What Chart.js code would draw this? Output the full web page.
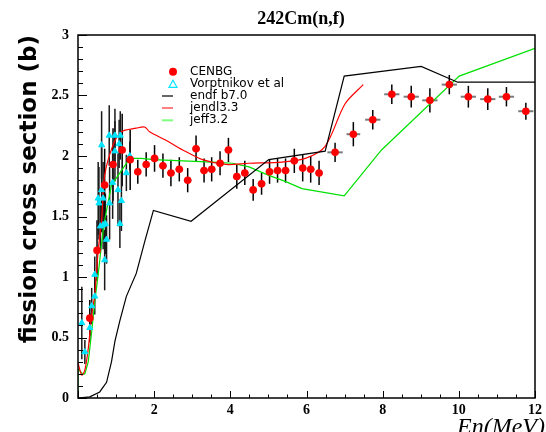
<!DOCTYPE html>
<html>
<head>
<meta charset="utf-8">
<script src="https://cdn.jsdelivr.net/npm/chart.js@4.4.1/dist/chart.umd.min.js"></script>
<style>
  html, body { margin: 0; padding: 0; background: #fff; }
  canvas { display: block; }
</style>
</head>
<body>
<canvas id="c" width="546" height="432"></canvas>
<script>
// CENBG points: energy (MeV), cross section (b), errors
const cenbgE = [0.31, 0.50, 0.70, 0.92, 1.16, 1.37, 1.57, 1.79, 2.01, 2.23, 2.44, 2.66, 2.88, 3.10, 3.31,
  3.51, 3.73, 3.95, 4.17, 4.38, 4.60, 4.82, 5.03, 5.24, 5.45, 5.68, 5.90, 6.11, 6.33, 6.75, 7.23,
  7.74, 8.24, 8.75, 9.24, 9.75, 10.25, 10.76, 11.25, 11.76];
const cenbgSigma = [0.66, 1.22, 1.76, 1.93, 2.05, 1.97, 1.87, 1.93, 1.98, 1.92, 1.86, 1.89, 1.80, 2.06, 1.88,
  1.89, 1.94, 2.05, 1.83, 1.86, 1.72, 1.77, 1.87, 1.88, 1.88, 1.96, 1.90, 1.89, 1.86, 2.03, 2.18,
  2.30, 2.51, 2.49, 2.46, 2.59, 2.49, 2.47, 2.49, 2.37];
const cenbgErrY = [0.15, 0.25, 0.30, 0.30, 0.30, 0.25, 0.10, 0.10, 0.11, 0.10, 0.11, 0.10, 0.10, 0.11, 0.10,
  0.10, 0.10, 0.10, 0.10, 0.10, 0.09, 0.09, 0.10, 0.10, 0.10, 0.10, 0.11, 0.11, 0.10, 0.08, 0.10,
  0.08, 0.08, 0.09, 0.10, 0.08, 0.09, 0.09, 0.08, 0.07];
const cenbgErrX = [0.05, 0.05, 0.05, 0.05, 0.05, 0.08, 0.08, 0.08, 0.1, 0.1, 0.1, 0.1, 0.1, 0.1, 0.1,
  0.1, 0.1, 0.1, 0.1, 0.1, 0.1, 0.1, 0.1, 0.1, 0.1, 0.1, 0.1, 0.1, 0.1, 0.2, 0.18,
  0.2, 0.2, 0.2, 0.2, 0.2, 0.2, 0.2, 0.2, 0.2];

// Vorptnikov et al
const vorpE = [0.62, 0.82, 0.97, 1.11, 1.08, 0.97, 1.36, 1.27, 0.91, 1.05, 0.62, 0.53, 0.66, 0.83,
  1.14, 0.55, 1.10, 0.72, 0.66, 0.59, 0.75, 0.70, 0.44, 0.44, 0.36, 0.31, 0.10, 0.18];
const vorpSigma = [2.09, 2.17, 2.17, 2.17, 2.10, 2.04, 2.00, 1.86, 1.78, 1.72, 1.72, 1.65, 1.65, 1.61,
  1.63, 1.61, 1.44, 1.44, 1.43, 1.42, 1.31, 1.14, 1.02, 0.84, 0.76, 0.58, 0.62, 0.38];
const vorpErr = [0.28, 0.25, 0.22, 0.20, 0.20, 0.25, 0.12, 0.15, 0.30, 0.30, 0.35, 0.30, 0.30, 0.30,
  0.25, 0.30, 0.20, 0.25, 0.20, 0.20, 0.20, 0.25, 0.15, 0.15, 0.15, 0.12, 0.30, 0.10];

// evaluations
const endfE = [0, 0.31, 0.57, 0.75, 0.88, 0.97, 1.10, 1.27, 1.53, 1.75, 1.98, 2.97, 5.01, 6.49, 6.99, 9.01, 9.97, 12];
const endfSigma = [0, 0.01, 0.05, 0.13, 0.30, 0.47, 0.64, 0.84, 1.03, 1.29, 1.55, 1.46, 1.97, 2.04, 2.66, 2.74, 2.61, 2.61];

const jendlE = [0, 0.10, 0.18, 0.27, 0.36, 0.44, 0.53, 0.62, 0.70, 0.92, 1.14, 1.53, 1.75, 1.88, 2.31,
  2.75, 3.27, 3.88, 4.49, 5.36, 5.97, 6.49, 7.01, 7.49];
const jendlSigma = [0.29, 0.19, 0.23, 0.41, 0.69, 0.85, 1.22, 1.47, 1.84, 2.09, 2.20, 2.23, 2.24, 2.20, 2.13,
  2.05, 1.97, 1.93, 1.94, 1.95, 1.98, 2.08, 2.43, 2.59];

const jeffE = [0, 0, 0.12, 0.18, 0.27, 0.36, 0.44, 0.53, 0.62, 0.70, 0.88, 1.10, 1.36, 1.66, 1.98,
  3.53, 4.05, 4.49, 5.01, 5.44, 5.88, 6.99, 7.97, 10.01, 12];
const jeffSigma = [0, 0.24, 0.20, 0.20, 0.30, 0.55, 0.80, 1.02, 1.28, 1.47, 1.76, 1.86, 1.98, 1.98, 1.97,
  1.95, 1.94, 1.91, 1.84, 1.79, 1.73, 1.67, 2.05, 2.66, 2.89];

const legendNames = ["CENBG", "Vorptnikov et al", "endf b7.0", "jendl3.3", "jeff3.2"];

const pts = (xs, ys) => xs.map((x, i) => ({ x, y: ys[i] }));

const serif = "'Liberation Serif', 'DejaVu Serif', serif";
const sans = "'DejaVu Sans', Verdana, sans-serif";

// error bars drawn under the markers
const errorBars = {
  id: "errorBars",
  beforeDatasetsDraw(chart) {
    const { ctx, scales: { x, y } } = chart;
    ctx.save();
    chart.data.datasets.forEach((ds) => {
      if (!ds.errY) return;
      ds.data.forEach((p, i) => {
        const px = x.getPixelForValue(p.x);
        const py = y.getPixelForValue(p.y);
        if (ds.errX) {
          ctx.strokeStyle = "#7a7a7a";
          ctx.lineWidth = 2;
          ctx.beginPath();
          ctx.moveTo(x.getPixelForValue(p.x - ds.errX[i]), py);
          ctx.lineTo(x.getPixelForValue(p.x + ds.errX[i]), py);
          ctx.stroke();
        }
        ctx.strokeStyle = ds.errColor || "#000";
        ctx.lineWidth = 1.5;
        ctx.beginPath();
        ctx.moveTo(px, y.getPixelForValue(p.y - ds.errY[i]));
        ctx.lineTo(px, y.getPixelForValue(p.y + ds.errY[i]));
        ctx.stroke();
      });
    });
    ctx.restore();
  },
};

// frame with inward ticks, title, x label and legend
const decor = {
  id: "decor",
  afterDraw(chart) {
    const { ctx, chartArea: a, scales: { x, y } } = chart;
    ctx.save();
    ctx.strokeStyle = "#000";
    ctx.lineWidth = 1.5;
    ctx.strokeRect(a.left, a.top, a.right - a.left, a.bottom - a.top);

    ctx.lineWidth = 1;
    ctx.beginPath();
    for (let k = 0; k <= 24; k++) {
      const px = Math.round(x.getPixelForValue(k * 0.5)) + 0.5;
      const len = k % 4 === 0 ? 7 : 3.5;
      ctx.moveTo(px, a.bottom);
      ctx.lineTo(px, a.bottom - len);
    }
    for (let k = 0; k <= 30; k++) {
      const py = Math.round(y.getPixelForValue(k * 0.1)) + 0.5;
      const len = k % 5 === 0 ? 9 : 5;
      ctx.moveTo(a.left, py);
      ctx.lineTo(a.left + len, py);
    }
    ctx.stroke();

    ctx.fillStyle = "#000";
    ctx.textAlign = "center";
    ctx.textBaseline = "middle";
    ctx.font = `bold 18px ${serif}`;
    ctx.fillText("242Cm(n,f)", 301, 19);

    ctx.textAlign = "left";
    ctx.textBaseline = "top";
    ctx.font = `italic 24px ${serif}`;
    ctx.fillText("En(MeV)", 457, 416);

    // legend
    const lx = 173, tx = 190;
    const rows = [71.7, 84.3, 96, 108, 120.3];
    ctx.font = `12px ${sans}`;
    ctx.textBaseline = "middle";
    ctx.fillStyle = "#000";
    legendNames.forEach((t, i) => ctx.fillText(t, tx, rows[i]));
    ctx.fillStyle = "#ff0000";
    ctx.beginPath();
    ctx.arc(lx, rows[0], 4, 0, Math.PI * 2);
    ctx.fill();
    ctx.strokeStyle = "#00e5ff";
    ctx.lineWidth = 1.2;
    ctx.beginPath();
    ctx.moveTo(lx, rows[1] - 4);
    ctx.lineTo(lx + 4, rows[1] + 3);
    ctx.lineTo(lx - 4, rows[1] + 3);
    ctx.closePath();
    ctx.stroke();
    [["#666", rows[2]], ["#ff8080", rows[3]], ["#80ff80", rows[4]]].forEach(([c, ry]) => {
      ctx.strokeStyle = c;
      ctx.lineWidth = 2;
      ctx.beginPath();
      ctx.moveTo(162, ry);
      ctx.lineTo(173, ry);
      ctx.stroke();
    });
    ctx.restore();
  },
};

new Chart(document.getElementById("c"), {
  type: "scatter",
  data: {
    datasets: [
      {
        label: legendNames[0],
        data: pts(cenbgE, cenbgSigma),
        errY: cenbgErrY,
        errX: cenbgErrX,
        pointStyle: "circle",
        pointRadius: 3.8,
        backgroundColor: "#ff0000",
        borderColor: "#ff0000",
        borderWidth: 0,
      },
      {
        label: legendNames[1],
        data: pts(vorpE, vorpSigma),
        errY: vorpErr,
        errColor: "#1a1a1a",
        pointStyle: "triangle",
        pointRadius: 3.5,
        backgroundColor: "#00e5ff",
        borderColor: "#00e5ff",
        borderWidth: 1,
      },
      {
        label: legendNames[2],
        data: pts(endfE, endfSigma),
        showLine: true,
        pointRadius: 0,
        borderColor: "#000",
        borderWidth: 1.2,
      },
      {
        label: legendNames[3],
        data: pts(jendlE, jendlSigma),
        showLine: true,
        pointRadius: 0,
        borderColor: "#ff0000",
        borderWidth: 1.2,
        tension: 0.3,
      },
      {
        label: legendNames[4],
        data: pts(jeffE, jeffSigma),
        showLine: true,
        pointRadius: 0,
        borderColor: "#00e000",
        borderWidth: 1.2,
      },
    ],
  },
  options: {
    responsive: false,
    animation: false,
    devicePixelRatio: 1,
    layout: { padding: { top: 35, right: 8, bottom: 0, left: 0 } },
    plugins: { legend: { display: false }, tooltip: { enabled: false } },
    scales: {
      x: {
        type: "linear",
        min: 0,
        max: 12,
        grid: { display: false, drawTicks: false },
        border: { display: false },
        afterFit: (s) => { s.height = 34; },
        ticks: {
          stepSize: 2,
          padding: 4,
          color: "#000",
          font: { family: serif, weight: "bold", size: 14 },
          callback: (v) => (v === 0 ? "" : v),
        },
      },
      y: {
        min: 0,
        max: 3,
        grid: { display: false, drawTicks: false },
        border: { display: false },
        afterFit: (s) => { s.width = 78; },
        title: {
          display: true,
          align: "end",
          text: "fission cross section (b)",
          color: "#000",
          font: { family: sans, weight: "bold", size: 23 },
          padding: { top: 16, bottom: 0 },
        },
        ticks: {
          stepSize: 0.5,
          padding: 9,
          color: "#000",
          font: { family: serif, weight: "bold", size: 14 },
          callback: (v) => String(+v.toFixed(1)),
        },
      },
    },
  },
  plugins: [errorBars, decor],
});
</script>
</body>
</html>
